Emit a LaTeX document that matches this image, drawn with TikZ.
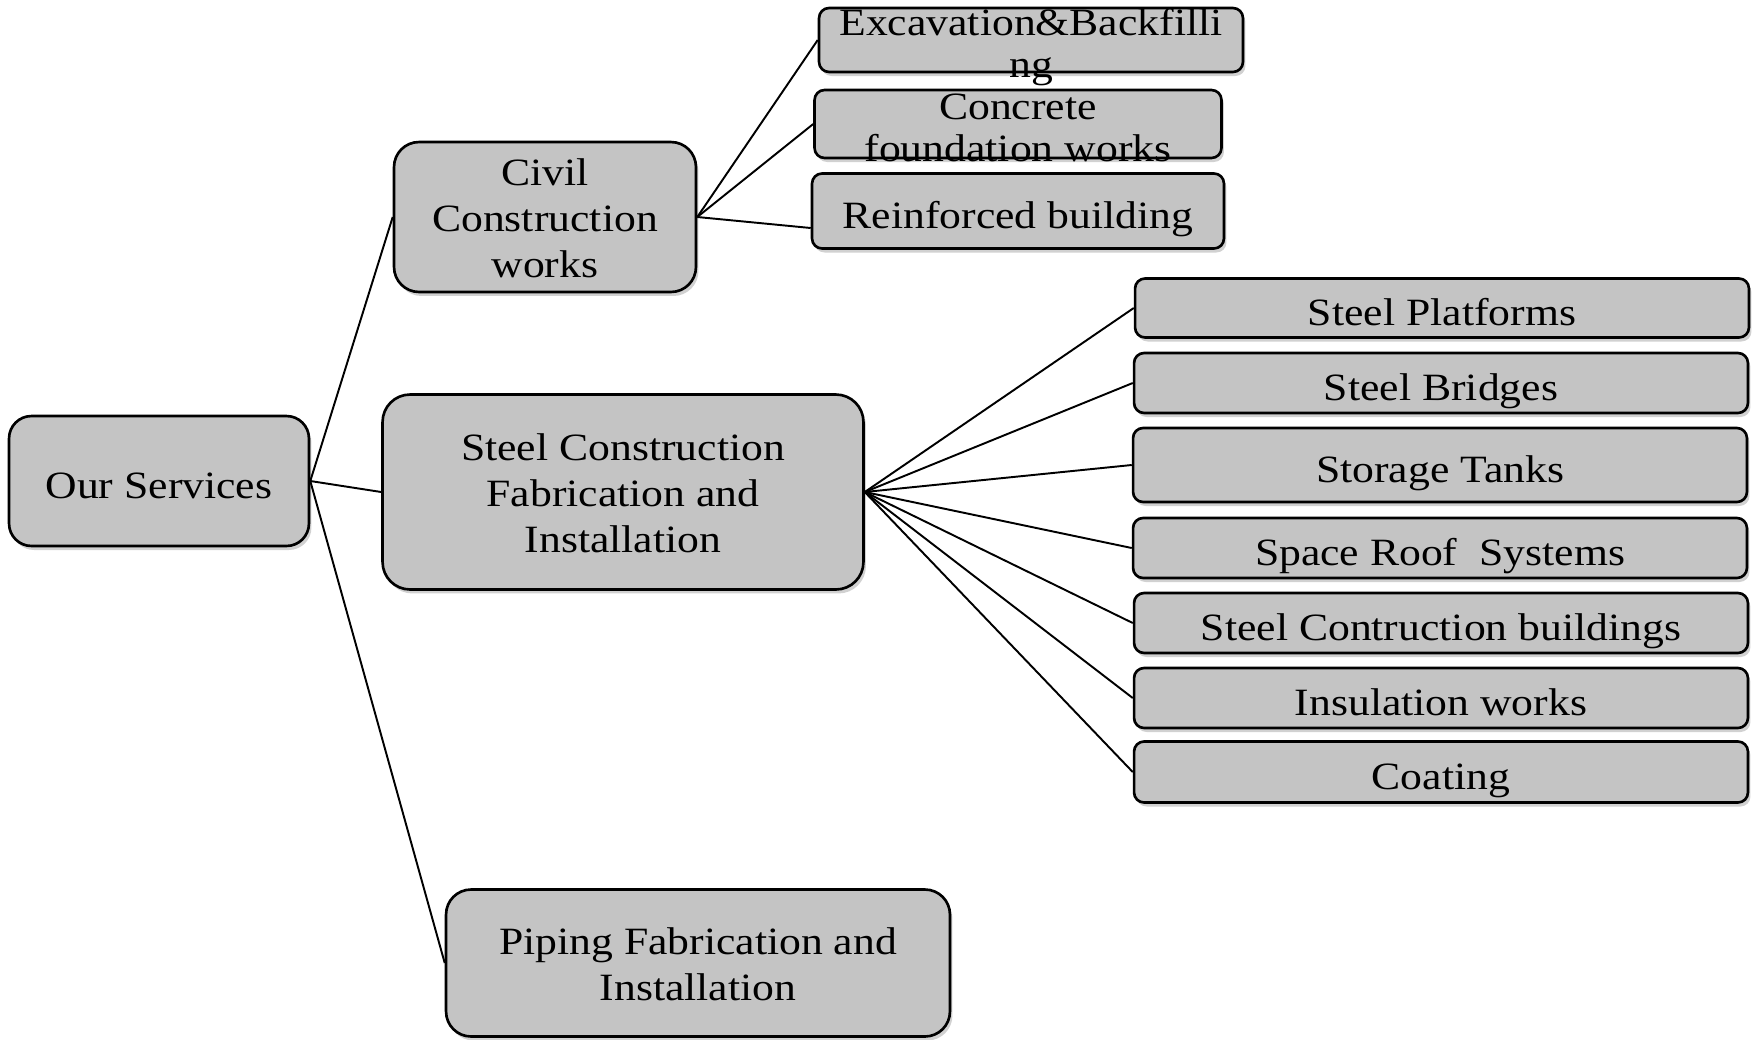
\documentclass[tikz,border=0pt]{standalone}
\usepackage{fontspec}
\setmainfont{Liberation Serif}[FakeStretch=1.13]
\usepackage{xcolor}
\usepackage{tikz}
\usetikzlibrary{shadows}
\usetikzlibrary{positioning}
\usetikzlibrary{calc}
\definecolor{boxgray}{HTML}{C4C4C4}
\tikzstyle{svc}=[rectangle,draw=black,fill=boxgray,line width=1.5pt,inner sep=0pt,
  drop shadow={shadow xshift=0.05cm,shadow yshift=-0.08cm,fill=black!40,opacity=0.45}]
\tikzstyle{bigsvc}=[svc,rounded corners=0.5cm]
\tikzstyle{subsvc}=[svc,rounded corners=0.2cm]
\tikzstyle{oneline}=[text height=19.5pt,text depth=0pt]
\tikzstyle{branch} = [draw,line width=1.1pt]
% several lines, set a bit low in the box
\newcommand{\lines}[1]{\raisebox{-1.5pt}[\dimexpr\height+1.5pt][\dimexpr\depth-1.5pt]{\begin{tabular}{@{}c@{}}#1\end{tabular}}}
% several lines that run out of a small box
\newcommand{\overrun}[1]{\raisebox{-10pt}[0pt][0pt]{\fontsize{22}{24}\selectfont\begin{tabular}{@{}c@{}}#1\end{tabular}}}

\begin{document}
\begin{tikzpicture}[x=0.02cm,y=-0.02cm,font=\fontsize{22}{26}\selectfont]
    \useasboundingbox (0,0) rectangle (1761,1039);
    % main boxes
    \node[bigsvc,oneline,minimum width=6cm,minimum height=2.6cm,rounded corners=0.45cm] (serv) at (159,481) {Our Services};
    \node[bigsvc,minimum width=6.04cm,minimum height=3cm] (civil) at (545,217) {\lines{Civil\\Construction\\works}};
    \node[bigsvc,minimum width=9.62cm,minimum height=3.9cm,rounded corners=0.55cm] (steel) at (623,492) {\lines{Steel Construction\\Fabrication and\\Installation}};
    \node[bigsvc,minimum width=10.08cm,minimum height=2.94cm] (pipe) at (698,963) {\lines{Piping Fabrication and\\Installation}};

    % civil works
    \node[subsvc,minimum width=8.48cm,minimum height=1.28cm] (exc) at (1031,40) {\overrun{Excavation\&Backfilli\\ng}};
    \node[subsvc,minimum width=8.14cm,minimum height=1.36cm] (conc) at (1018,124) {\overrun{Concrete\\foundation works}};
    \node[subsvc,oneline,minimum width=8.24cm,minimum height=1.5cm] (rein) at (1018,211) {Reinforced building};

    % steel works
    \foreach \pos/\name/\boxh/\label in {{(1442,308)/plat/1.18/Steel Platforms},
    {(1441,383)/brdg/1.2/Steel Bridges}, {(1440,465)/tank/1.48/Storage Tanks},
    {(1440,548)/roof/1.2/Space Roof\ \ Systems}, {(1441,623)/bldg/1.2/Steel Contruction buildings},
    {(1441,698)/insu/1.2/Insulation works}, {(1441,772)/coat/1.22/Coating}}
        \node[subsvc,oneline,minimum width=12.28cm,minimum height=\boxh cm] (\name) at \pos {\label};

    % connect boxes
    \foreach \dest in {civil,steel,pipe}
        \path[branch] (serv.east) -- (\dest.west);
    \path[branch] (civil.east) -- (exc.west);
    \path[branch] (civil.east) -- (conc.west);
    \path[branch] (civil.east) -- ([yshift=-0.34cm]rein.west);
    \foreach \dest in {plat,brdg,tank,roof,bldg,insu,coat}
        \path[branch] (steel.east) -- (\dest.west);
\end{tikzpicture}
\end{document}
